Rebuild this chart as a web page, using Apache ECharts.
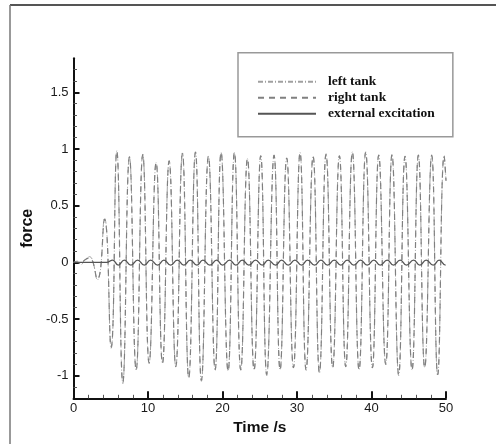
<!DOCTYPE html>
<html>
<head>
<meta charset="utf-8">
<script src="https://cdn.jsdelivr.net/npm/echarts@6/dist/echarts.min.js"></script>
<style>
html,body{margin:0;padding:0;background:#fff;}
#chart{width:496px;height:444px;}
</style>
</head>
<body>
<div id="chart"></div>
<script>
// Data: [time (s), force]
const leftTank = [
  [0,0],[0.5,0.01],[1,-0.02],[1.5,0.02],[2.15,0.05],[3.2,-0.155],[4.16,0.39],[5.05,-0.76],
  [5.81,0.985],[6.62,-1.07],[7.51,0.93],[8.41,-0.95],[9.30,0.955],[10.15,-0.89],[11.09,0.88],
  [11.94,-0.89],[12.84,0.895],[13.73,-0.92],[14.62,0.965],[15.47,-1.02],[16.37,0.975],[17.17,-1.05],
  [18.11,0.935],[19.01,-0.95],[19.81,0.97],[20.75,-0.96],[21.60,0.97],[22.45,-0.95],[23.35,0.915],
  [24.24,-0.95],[25.13,0.94],[25.94,-1.0],[26.92,0.945],[27.73,-0.95],[28.62,0.92],[29.52,-0.93],
  [30.41,0.97],[31.22,-0.95],[32.16,0.935],[33.01,-0.98],[33.90,0.955],[34.79,-0.93],[35.69,0.94],
  [36.54,-0.92],[37.43,0.975],[38.33,-0.95],[39.22,0.975],[40.12,-0.93],[40.97,0.945],[41.91,-0.9],
  [42.75,0.95],[43.65,-1.0],[44.50,0.935],[45.44,-0.95],[46.29,0.945],[47.14,-0.93],[48.08,0.945],
  [48.88,-1.0],[49.75,0.94],[50,0.72]
];
const rightTank = [
  [0,0],[0.5,0.0],[1,-0.01],[1.5,0.02],[2.15,0.04],[3.2,-0.15],[4.16,0.38],[5.05,-0.75],
  [5.81,0.98],[6.62,-1.06],[7.51,0.93],[8.41,-0.95],[9.30,0.95],[10.15,-0.89],[11.09,0.88],
  [11.94,-0.89],[12.84,0.895],[13.73,-0.92],[14.62,0.96],[15.47,-1.02],[16.37,0.97],[17.17,-1.04],
  [18.11,0.935],[19.01,-0.95],[19.81,0.97],[20.75,-0.96],[21.60,0.97],[22.45,-0.95],[23.35,0.915],
  [24.24,-0.95],[25.13,0.94],[25.94,-0.99],[26.92,0.945],[27.73,-0.95],[28.62,0.92],[29.52,-0.93],
  [30.41,0.965],[31.22,-0.95],[32.16,0.935],[33.01,-0.97],[33.90,0.955],[34.79,-0.93],[35.69,0.94],
  [36.54,-0.92],[37.43,0.97],[38.33,-0.95],[39.22,0.97],[40.12,-0.93],[40.97,0.945],[41.91,-0.9],
  [42.75,0.95],[43.65,-0.99],[44.50,0.935],[45.44,-0.95],[46.29,0.945],[47.14,-0.93],[48.08,0.945],
  [48.88,-0.99],[49.75,0.94],[50,0.72]
];
const externalExcitation = [
  [0,0],[4.5,0],[5.25,0.02],[6.0,-0.025],[6.82,0.02],[7.71,-0.025],[8.61,0.02],[9.5,-0.025],
  [10.35,0.02],[11.29,-0.025],[12.14,0.02],[13.04,-0.025],[13.93,0.02],[14.82,-0.025],[15.67,0.02],
  [16.57,-0.025],[17.37,0.02],[18.31,-0.025],[19.21,0.02],[20.01,-0.025],[20.95,0.02],[21.8,-0.025],
  [22.65,0.02],[23.55,-0.025],[24.44,0.02],[25.33,-0.025],[26.14,0.02],[27.12,-0.025],[27.93,0.02],
  [28.82,-0.025],[29.72,0.02],[30.61,-0.025],[31.42,0.02],[32.36,-0.025],[33.21,0.02],[34.1,-0.025],
  [34.99,0.02],[35.89,-0.025],[36.74,0.02],[37.63,-0.025],[38.53,0.02],[39.42,-0.025],[40.32,0.02],
  [41.17,-0.025],[42.11,0.02],[42.95,-0.025],[43.85,0.02],[44.7,-0.025],[45.64,0.02],[46.49,-0.025],
  [47.34,0.02],[48.28,-0.025],[49.08,0.02],[49.95,-0.025],[50,-0.024]
];
const yMajorTicks = [-1, -0.5, 0, 0.5, 1, 1.5];
const yMinorTicks = [-1.1,-0.9,-0.8,-0.7,-0.6,-0.4,-0.3,-0.2,-0.1,0.1,0.2,0.3,0.4,0.6,0.7,0.8,0.9,1.1,1.2,1.3,1.4,1.6,1.7];
const seriesNames = ['left tank', 'right tank', 'external excitation'];

const chart = echarts.init(document.getElementById('chart'), null, {renderer: 'canvas'});
const labelFont = {fontFamily: 'Liberation Sans', fontSize: 13, color: '#1a1a1a'};
chart.setOption({
  backgroundColor: '#fff',
  animation: false,
  grid: {left: 73.5, right: 50, top: 58.3, bottom: 45.7},
  graphic: [
    {type: 'line', shape: {x1: 10, y1: 5, x2: 496, y2: 5}, style: {stroke: '#555', lineWidth: 2}},
    {type: 'line', shape: {x1: 10, y1: 5, x2: 10, y2: 444}, style: {stroke: '#777', lineWidth: 1.5}}
  ],
  legend: {
    orient: 'vertical', left: 238, top: 52.7,
    itemWidth: 58, itemHeight: 14, itemGap: 2,
    padding: [22, 18, 16, 19],
    borderColor: '#999', borderWidth: 1.5,
    align: 'left',
    itemStyle: {opacity: 0},
    textStyle: {fontFamily: 'Liberation Serif', fontWeight: 'bold', fontSize: 13.5, color: '#111', padding: [0,0,0,7], lineHeight: 14},
    data: seriesNames
  },
  xAxis: {
    type: 'value', min: 0, max: 50, interval: 10,
    name: 'Time /s', nameLocation: 'middle', nameGap: 15.5,
    nameTextStyle: {fontFamily: 'Liberation Sans', fontWeight: 'bold', fontSize: 15.5, color: '#111'},
    axisLine: {show: true, onZero: false, lineStyle: {color: '#111', width: 2}},
    axisTick: {show: true, inside: true, length: 7, lineStyle: {color: '#111', width: 2}},
    minorTick: {show: true, splitNumber: 5, length: 3.5, lineStyle: {color: '#555', width: 1}},
    axisLabel: Object.assign({margin: 4}, labelFont),
    splitLine: {show: false}
  },
  yAxis: [
    {
      type: 'value', min: -1.2, max: 1.8,
      name: 'force', nameLocation: 'middle', nameGap: 25.5,
      nameTextStyle: {fontFamily: 'Liberation Sans', fontWeight: 'bold', fontSize: 16, color: '#111'},
      axisLine: {show: true, onZero: false, lineStyle: {color: '#111', width: 2}},
      axisTick: {show: true, inside: true, length: 6, customValues: yMajorTicks, lineStyle: {color: '#111', width: 2}},
      axisLabel: Object.assign({margin: 5, customValues: yMajorTicks}, labelFont),
      splitLine: {show: false}
    },
    {
      type: 'value', min: -1.2, max: 1.8, position: 'left',
      axisLine: {show: false},
      axisTick: {show: true, inside: true, length: 3.5, customValues: yMinorTicks, lineStyle: {color: '#555', width: 1}},
      axisLabel: {show: false},
      splitLine: {show: false}
    }
  ],
  series: [
    {
      name: seriesNames[0], type: 'line', data: leftTank, smooth: 0.5, symbol: 'none',
      lineStyle: {color: '#a0a0a0', width: 1, type: [5, 2, 1, 2]},
      itemStyle: {color: '#a0a0a0'}
    },
    {
      name: seriesNames[1], type: 'line', data: rightTank, smooth: 0.5, symbol: 'none',
      lineStyle: {color: '#808080', width: 1.2, type: [6, 5]},
      itemStyle: {color: '#808080'}
    },
    {
      name: seriesNames[2], type: 'line', data: externalExcitation, smooth: 0.5, symbol: 'none',
      lineStyle: {color: '#555', width: 1.3, type: 'solid'},
      itemStyle: {color: '#555'}
    }
  ]
});
</script>
</body>
</html>
